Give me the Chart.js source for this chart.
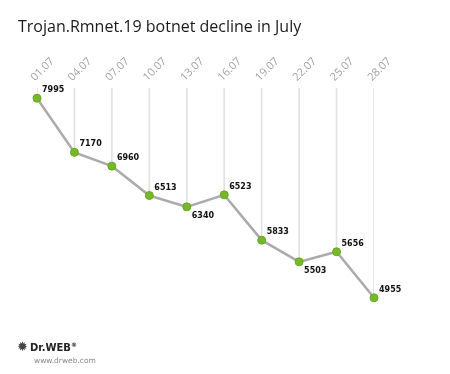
<!DOCTYPE html>
<html>
<head>
<meta charset="utf-8">
<script src="https://cdn.jsdelivr.net/npm/chart.js@4/dist/chart.umd.min.js"></script>
<style>
  html, body { margin: 0; padding: 0; background: #fff; }
  #wrap { position: relative; width: 450px; height: 374px; overflow: hidden; }
  #chart { position: absolute; left: 0; top: 0; }
  #title { position: absolute; left: 18px; top: 15px; font: 16px "Open Sans", sans-serif; color: #1a1a1a; white-space: nowrap; }
  #logo { position: absolute; left: 17px; top: 336px; font-family: "DejaVu Sans", sans-serif; }
  #logo .brand { font-size: 10px; font-weight: bold; color: #222; }
  #logo .bug { font-size: 13px; color: #444; margin-right: 2px; }
  #logo .url { font-size: 7.5px; color: #888; margin-left: 17px; margin-top: 1px; }
</style>
</head>
<body>
<div id="wrap">
  <canvas id="chart" width="450" height="374"></canvas>
  <div id="title">Trojan.Rmnet.19 botnet decline in July</div>
  <div id="logo">
    <div><span class="bug">&#10041;</span><span class="brand">Dr.WEB<sup style="font-size:6px">&#174;</sup></span></div>
    <div class="url">www.drweb.com</div>
  </div>
</div>
<script>
// Trojan.Rmnet.19 botnet size, every third day of July
const DATE_LABELS = ["01.07", "04.07", "07.07", "10.07", "13.07", "16.07", "19.07", "22.07", "25.07", "28.07"];
const BOT_COUNTS = [7995, 7170, 6960, 6513, 6340, 6523, 5833, 5503, 5656, 4955];

const Y_MIN = 4800;
const Y_MAX = 8150;

// drop lines from the top of the plot down to each point
const DROP_LINES = BOT_COUNTS.map((v) => [v, Y_MAX]);

/**
 * Print the value next to each point.
 * Local minimums get their label below, the rest above.
 */
const valueLabelPlugin = {
  id: "valueLabels",
  afterDatasetsDraw(chart) {
    const CTX = chart.ctx;
    const META = chart.getDatasetMeta(1);
    CTX.save();
    CTX.font = "bold 8px 'DejaVu Sans'";
    CTX.fillStyle = "#111";
    CTX.textAlign = "left";
    META.data.forEach((pt, i) => {
      const v = BOT_COUNTS[i];
      const prev = i > 0 ? BOT_COUNTS[i - 1] : Infinity;
      const next = i < BOT_COUNTS.length - 1 ? BOT_COUNTS[i + 1] : -Infinity;
      if (v < prev && v < next) {
        CTX.textBaseline = "top";
        CTX.fillText(String(v), pt.x + 5, pt.y + 5);
      } else {
        CTX.textBaseline = "alphabetic";
        CTX.fillText(String(v), pt.x + 5, pt.y - 6);
      }
    });
    CTX.restore();
  }
};

new Chart(document.getElementById("chart").getContext("2d"), {
  type: "line",
  data: {
    labels: DATE_LABELS,
    datasets: [{
      type: "bar",
      data: DROP_LINES,
      backgroundColor: "#e2e2e2",
      borderWidth: 0,
      barThickness: 1,
      order: 2
    }, {
      type: "line",
      data: BOT_COUNTS,
      borderColor: "#ababab",
      borderWidth: 2.5,
      pointRadius: 4,
      pointBackgroundColor: "#76b82a",
      pointBorderColor: "#6aa81f",
      pointBorderWidth: 1,
      tension: 0,
      order: 1
    }]
  },
  options: {
    responsive: false,
    animation: false,
    layout: { padding: { left: 37, right: 76, top: 48, bottom: 66 } },
    plugins: {
      legend: { display: false },
      tooltip: { enabled: false }
    },
    scales: {
      x: {
        position: "top",
        offset: false,
        grid: { display: false, drawTicks: false },
        border: { display: false },
        ticks: {
          minRotation: 45,
          maxRotation: 45,
          padding: 4,
          labelOffset: 5,
          color: "#a3a3a3",
          font: { family: "'Open Sans'", size: 11 }
        },
        afterFit: (scale) => { scale.height = 40; }
      },
      y: {
        display: false,
        min: Y_MIN,
        max: Y_MAX
      }
    }
  },
  plugins: [valueLabelPlugin]
});
</script>
</body>
</html>
